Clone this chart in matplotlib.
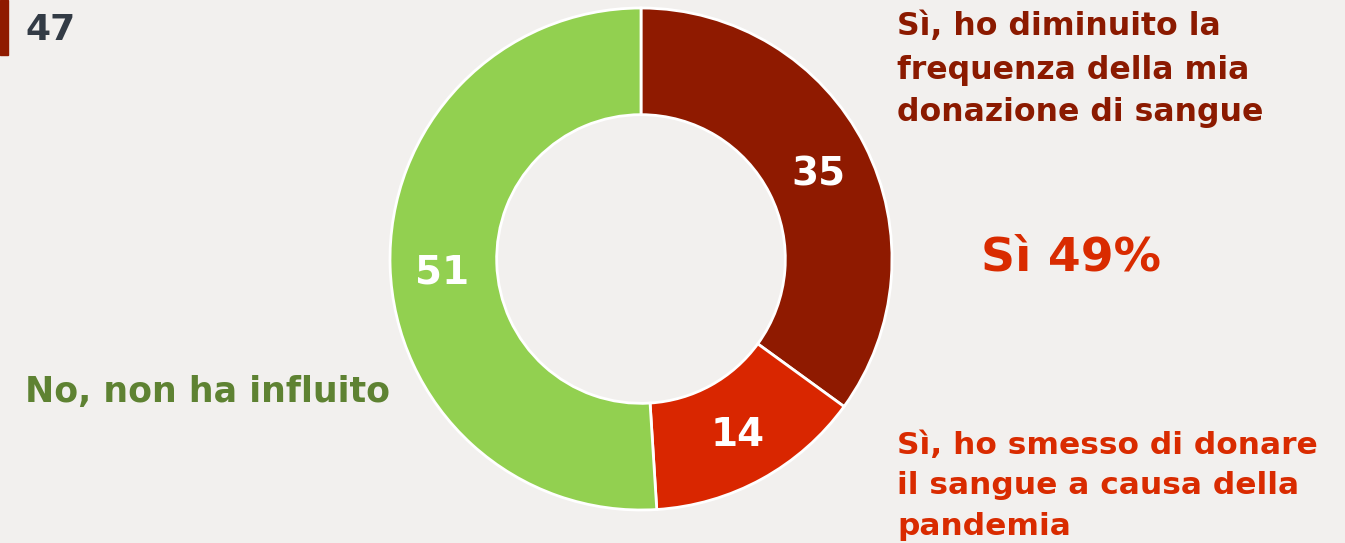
import matplotlib.pyplot as plt

labels = ["Sì, ho diminuito la\nfrequenza della mia\ndonazione di sangue",
          "Sì, ho smesso di donare\nil sangue a causa della\npandemia",
          "No, non ha influito"]
values = [35, 14, 51]
colors = ["#8F1A00", "#D92600", "#92D050"]
text_colors = ["#8B1A00", "#D92B00", "#5E8232"]
total_yes = "Sì 49%"
page_no = "47"

bg = "#F2F0EE"
W, H = 1345, 543
fig = plt.figure(figsize=(13.45, 5.43), dpi=100, facecolor=bg)
ax = fig.add_axes([0, 0, 1, 1])
ax.set_facecolor(bg)

cx, cy, r = 641, H - 259, 251
wedges, _ = ax.pie(values, colors=colors, startangle=90, counterclock=False,
                   center=(cx, cy), radius=r, frame=True,
                   wedgeprops=dict(width=r * 0.425, edgecolor="white", linewidth=2))
ax.set_xlim(0, W)
ax.set_ylim(0, H)
ax.set_aspect("equal")
ax.axis("off")

# value labels inside ring
val_pos = [(818, 175), (738, 435), (442, 272)]
for v, (x, y) in zip(values, val_pos):
    ax.text(x, H - y, str(v), color="white", fontsize=28, fontweight="bold",
            ha="center", va="center")

ax.text(897, H - 70, labels[0], color=text_colors[0], fontsize=22.7, fontweight="bold",
        ha="left", va="center", linespacing=1.5)
ax.text(897, H - 486, labels[1], color=text_colors[1], fontsize=22.5, fontweight="bold",
        ha="left", va="center", linespacing=1.5)
ax.text(390, H - 392, labels[2], color=text_colors[2], fontsize=25, fontweight="bold",
        ha="right", va="center")
ax.text(1071, H - 258, total_yes, color=text_colors[1], fontsize=34, fontweight="bold",
        ha="center", va="center")

# page marker
ax.add_patch(plt.Rectangle((0, H - 55), 8, 55, color="#8F1A00", clip_on=False))
ax.text(25, H - 30, page_no, color="#333B45", fontsize=26, fontweight="bold",
        ha="left", va="center")

fig.savefig("out.png", dpi=100, facecolor=bg)
